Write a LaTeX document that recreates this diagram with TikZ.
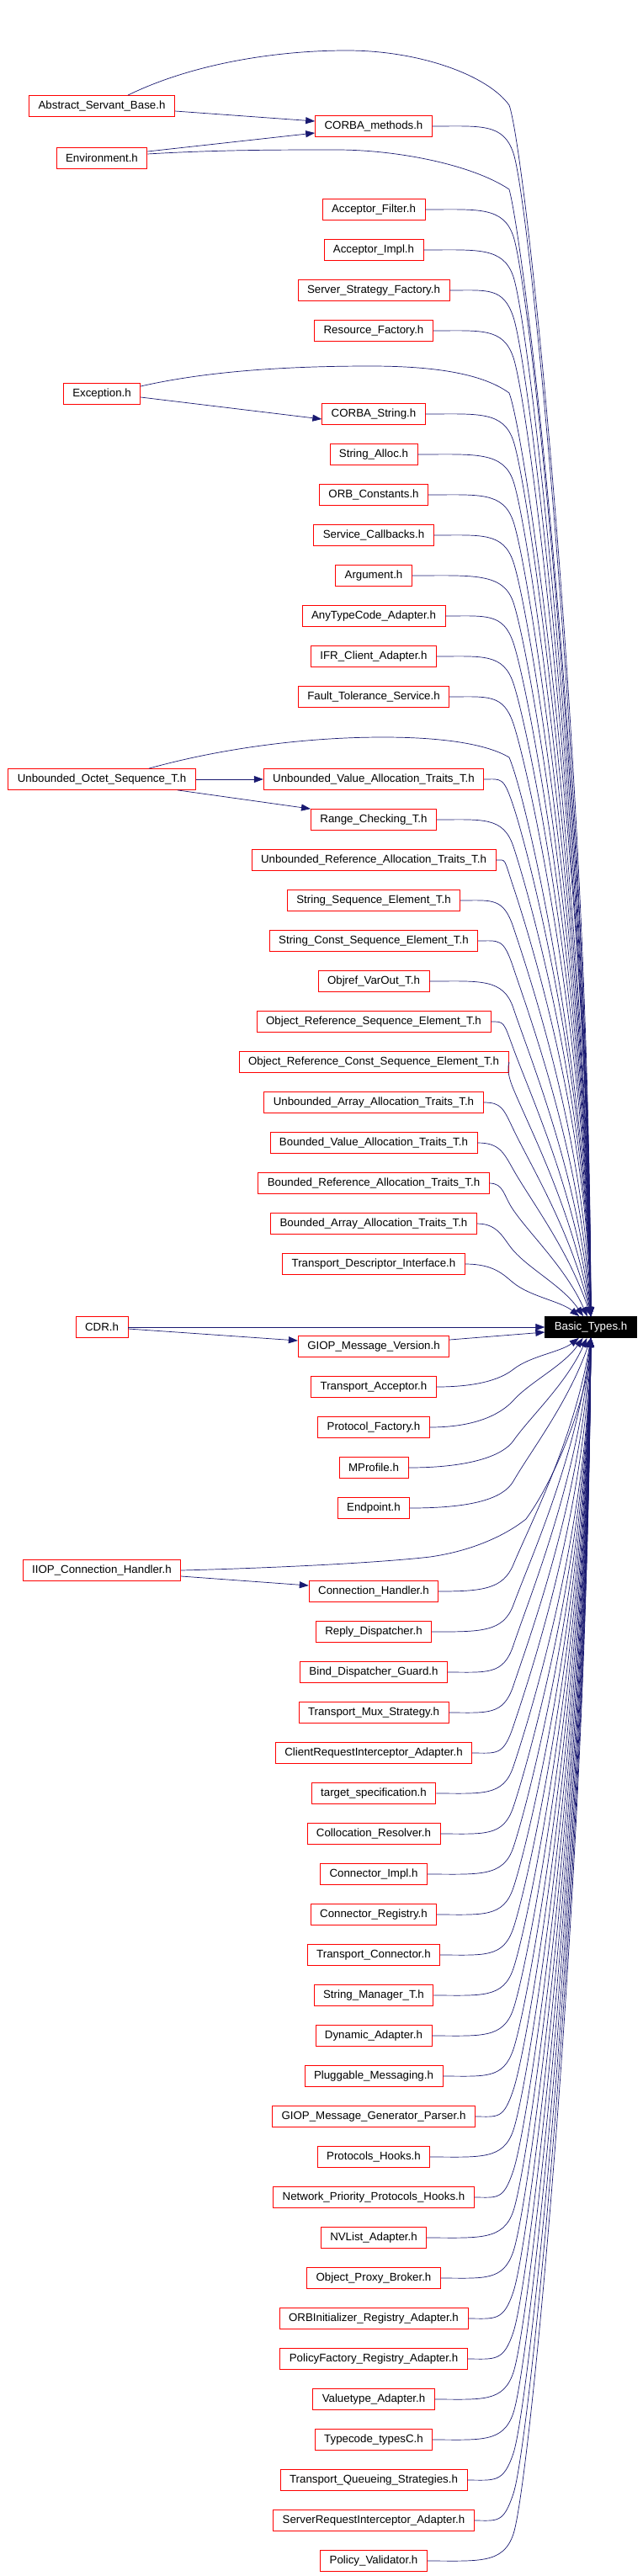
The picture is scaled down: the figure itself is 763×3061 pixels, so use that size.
\documentclass[tikz,border=0pt]{standalone}
\usepackage{fontspec}
\setmainfont{Liberation Sans}
\usepackage{tikz}
\usetikzlibrary{arrows.meta,calc}
\definecolor{edgeblue}{HTML}{191970}

\tikzset{
  file/.style={draw=red, line width=0.8pt, font=\fontsize{13.3}{16}\selectfont,
    inner xsep=11pt, inner ysep=0pt, minimum height=25pt},
  this/.style={file, draw=black, fill=black, text=white},
  dep/.style={draw=edgeblue, line width=0.7pt, -{Triangle[length=11pt,width=8pt]}},
  % bend at x=610, then run into the header
  fall/.style={to path={let \p1=(\tikztostart), \p2=(\tikztotarget),
    \n1={sign(\y1-\y2)}, \n2={abs(\y1-\y2)}, \n3={min(32,0.36*\n2)},
    \n4={min(3,0.4+\n2/150)}, \n5={max(4,40-\n2/15)}, \n6={max(0,20-\n2/10)} in
    .. controls ({\x1+0.6*(610-\x1)},\y1) and (598,{\y1-\n1*(\n3-12*\n4)}) .. (610,{\y1-\n1*\n3})
    .. controls (630,{\y1-\n1*(\n3+20*\n4)}) and ({\x2-\n5},{\y2+\n1*0.45*(\n2-\n3)}) .. ({\x2-\n6},\y2)}}
}

\begin{document}
\begin{tikzpicture}[x=1pt,y=1pt]
\useasboundingbox (0,0) rectangle (763,-3061);

\node[this] (bt) at (702,-1577) {Basic\_Types.h};

% files that include it through others
\node[file] (asb) at (121,-126) {Abstract\_Servant\_Base.h};
\node[file] (env) at (121,-188) {Environment.h};
\node[file] (exc) at (121,-468) {Exception.h};
\node[file] (uos) at (121,-926) {Unbounded\_Octet\_Sequence\_T.h};
\node[file] (cdr) at (121,-1577) {CDR.h};
\node[file] (iiop) at (121,-1866) {IIOP\_Connection\_Handler.h};

% direct includers
\node[file] (cm) at (444,-150) {CORBA\_methods.h};
\node[file] (af) at (444,-249) {Acceptor\_Filter.h};
\node[file] (ai) at (444,-297) {Acceptor\_Impl.h};
\node[file] (ssf) at (444,-345) {Server\_Strategy\_Factory.h};
\node[file] (rf) at (444,-393) {Resource\_Factory.h};
\node[file] (cs) at (444,-492) {CORBA\_String.h};
\node[file] (sa) at (444,-540) {String\_Alloc.h};
\node[file] (oc) at (444,-588) {ORB\_Constants.h};
\node[file] (sc) at (444,-636) {Service\_Callbacks.h};
\node[file] (arg) at (444,-684) {Argument.h};
\node[file] (atc) at (444,-732) {AnyTypeCode\_Adapter.h};
\node[file] (ifr) at (444,-780) {IFR\_Client\_Adapter.h};
\node[file] (fts) at (444,-828) {Fault\_Tolerance\_Service.h};
\node[file] (uvat) at (444,-926) {Unbounded\_Value\_Allocation\_Traits\_T.h};
\node[file] (rc) at (444,-974) {Range\_Checking\_T.h};
\node[file] (urat) at (444,-1022) {Unbounded\_Reference\_Allocation\_Traits\_T.h};
\node[file] (sse) at (444,-1070) {String\_Sequence\_Element\_T.h};
\node[file] (scse) at (444,-1118) {String\_Const\_Sequence\_Element\_T.h};
\node[file] (ovo) at (444,-1166) {Objref\_VarOut\_T.h};
\node[file] (orse) at (444,-1214) {Object\_Reference\_Sequence\_Element\_T.h};
\node[file] (orcse) at (444,-1262) {Object\_Reference\_Const\_Sequence\_Element\_T.h};
\node[file] (uaat) at (444,-1310) {Unbounded\_Array\_Allocation\_Traits\_T.h};
\node[file] (bvat) at (444,-1358) {Bounded\_Value\_Allocation\_Traits\_T.h};
\node[file] (brat) at (444,-1406) {Bounded\_Reference\_Allocation\_Traits\_T.h};
\node[file] (baat) at (444,-1454) {Bounded\_Array\_Allocation\_Traits\_T.h};
\node[file] (tdi) at (444,-1502) {Transport\_Descriptor\_Interface.h};
\node[file] (gmv) at (444,-1600) {GIOP\_Message\_Version.h};
\node[file] (ta) at (444,-1648) {Transport\_Acceptor.h};
\node[file] (pf) at (444,-1696) {Protocol\_Factory.h};
\node[file] (mp) at (444,-1744) {MProfile.h};
\node[file] (ep) at (444,-1792) {Endpoint.h};
\node[file] (ch) at (444,-1891) {Connection\_Handler.h};
\node[file] (rd) at (444,-1939) {Reply\_Dispatcher.h};
\node[file] (bdg) at (444,-1987) {Bind\_Dispatcher\_Guard.h};
\node[file] (tms) at (444,-2035) {Transport\_Mux\_Strategy.h};
\node[file] (cria) at (444,-2083) {ClientRequestInterceptor\_Adapter.h};
\node[file] (ts) at (444,-2131) {target\_specification.h};
\node[file] (cr) at (444,-2179) {Collocation\_Resolver.h};
\node[file] (ci) at (444,-2227) {Connector\_Impl.h};
\node[file] (cre) at (444,-2275) {Connector\_Registry.h};
\node[file] (tc) at (444,-2323) {Transport\_Connector.h};
\node[file] (smt) at (444,-2371) {String\_Manager\_T.h};
\node[file] (da) at (444,-2419) {Dynamic\_Adapter.h};
\node[file] (pm) at (444,-2467) {Pluggable\_Messaging.h};
\node[file] (gmgp) at (444,-2515) {GIOP\_Message\_Generator\_Parser.h};
\node[file] (ph) at (444,-2563) {Protocols\_Hooks.h};
\node[file] (npph) at (444,-2611) {Network\_Priority\_Protocols\_Hooks.h};
\node[file] (nvl) at (444,-2659) {NVList\_Adapter.h};
\node[file] (opb) at (444,-2707) {Object\_Proxy\_Broker.h};
\node[file] (oira) at (444,-2755) {ORBInitializer\_Registry\_Adapter.h};
\node[file] (pfra) at (444,-2803) {PolicyFactory\_Registry\_Adapter.h};
\node[file] (vta) at (444,-2851) {Valuetype\_Adapter.h};
\node[file] (tct) at (444,-2899) {Typecode\_typesC.h};
\node[file] (tqs) at (444,-2947) {Transport\_Queueing\_Strategies.h};
\node[file] (sria) at (444,-2995) {ServerRequestInterceptor\_Adapter.h};
\node[file] (pv) at (444,-3043) {Policy\_Validator.h};

% left column edges
\draw[dep] ([yshift=-6pt]asb.east) -- ([yshift=6pt]cm.west);
\draw[dep] ([xshift=31pt]asb.north) .. controls (230,-75) and (330,-60) .. (412,-60)
  .. controls (500,-60) and (580,-90) .. (605,-125)
  .. controls (625,-180) and (700,-900) .. (bt.north);
\draw[dep] ([yshift=8pt]env.east) -- ([yshift=-8pt]cm.west);
\draw[dep] ([yshift=5pt]env.east) .. controls (260,-178) and (330,-178) .. (400,-178)
  .. controls (470,-178) and (560,-195) .. (605,-225)
  .. controls (625,-300) and (700,-950) .. (bt.north);
\draw[dep] ([yshift=9pt]exc.east) .. controls (250,-440) and (350,-435) .. (440,-435)
  .. controls (520,-435) and (575,-445) .. (605,-467)
  .. controls (625,-520) and (700,-1050) .. (bt.north);
\draw[dep] ([yshift=-4pt]exc.east) -- ([yshift=-6pt]cs.west);
\draw[dep] ([xshift=56pt]uos.north) .. controls (260,-890) and (360,-876) .. (455,-876)
  .. controls (530,-876) and (580,-885) .. (605,-900)
  .. controls (630,-960) and (700,-1300) .. (bt.north);
\draw[dep] (uos.east) -- (uvat.west);
\draw[dep] ([xshift=90pt]uos.south) -- (rc.north west);
\draw[dep] (cdr.east) -- (bt.west);
\draw[dep] ([yshift=-2pt]cdr.east) -- ([yshift=7pt]gmv.west);
\draw[dep] ([yshift=8pt]gmv.east) -- ([yshift=-6pt]bt.west);
\draw[dep] (iiop.east) .. controls (330,-1863) and (450,-1857) .. (511,-1850)
  .. controls (560,-1843) and (600,-1825) .. (625,-1805)
  .. controls (665,-1750) and (700,-1650) .. (bt.south);
\draw[dep] ([yshift=-7pt]iiop.east) -- ([yshift=7pt]ch.west);

% edges into the header from above
\draw[dep] (cm.east) to[fall] (bt.north);
\draw[dep] (af.east) to[fall] (bt.north);
\draw[dep] (ai.east) to[fall] (bt.north);
\draw[dep] (ssf.east) to[fall] (bt.north);
\draw[dep] (rf.east) to[fall] (bt.north);
\draw[dep] (cs.east) to[fall] (bt.north);
\draw[dep] (sa.east) to[fall] (bt.north);
\draw[dep] (oc.east) to[fall] (bt.north);
\draw[dep] (sc.east) to[fall] (bt.north);
\draw[dep] (arg.east) to[fall] (bt.north);
\draw[dep] (atc.east) to[fall] (bt.north);
\draw[dep] (ifr.east) to[fall] (bt.north);
\draw[dep] (fts.east) to[fall] (bt.north);
\draw[dep] (uvat.east) to[fall] (bt.north);
\draw[dep] (rc.east) to[fall] (bt.north);
\draw[dep] (urat.east) to[fall] (bt.north);
\draw[dep] (sse.east) to[fall] (bt.north);
\draw[dep] (scse.east) to[fall] (bt.north);
\draw[dep] (ovo.east) to[fall] (bt.north);
\draw[dep] (orse.east) to[fall] (bt.north);
\draw[dep] (orcse.east) to[fall] (bt.north);
\draw[dep] (uaat.east) to[fall] (bt.north);
\draw[dep] (bvat.east) to[fall] (bt.north);
\draw[dep] (brat.east) to[fall] (bt.north);
\draw[dep] (baat.east) to[fall] (bt.north);
\draw[dep] (tdi.east) to[fall] (bt.north);

% edges into the header from below
\draw[dep] (ta.east) to[fall] (bt.south);
\draw[dep] (pf.east) to[fall] (bt.south);
\draw[dep] (mp.east) to[fall] (bt.south);
\draw[dep] (ep.east) to[fall] (bt.south);
\draw[dep] (ch.east) to[fall] (bt.south);
\draw[dep] (rd.east) to[fall] (bt.south);
\draw[dep] (bdg.east) to[fall] (bt.south);
\draw[dep] (tms.east) to[fall] (bt.south);
\draw[dep] (cria.east) to[fall] (bt.south);
\draw[dep] (ts.east) to[fall] (bt.south);
\draw[dep] (cr.east) to[fall] (bt.south);
\draw[dep] (ci.east) to[fall] (bt.south);
\draw[dep] (cre.east) to[fall] (bt.south);
\draw[dep] (tc.east) to[fall] (bt.south);
\draw[dep] (smt.east) to[fall] (bt.south);
\draw[dep] (da.east) to[fall] (bt.south);
\draw[dep] (pm.east) to[fall] (bt.south);
\draw[dep] (gmgp.east) to[fall] (bt.south);
\draw[dep] (ph.east) to[fall] (bt.south);
\draw[dep] (npph.east) to[fall] (bt.south);
\draw[dep] (nvl.east) to[fall] (bt.south);
\draw[dep] (opb.east) to[fall] (bt.south);
\draw[dep] (oira.east) to[fall] (bt.south);
\draw[dep] (pfra.east) to[fall] (bt.south);
\draw[dep] (vta.east) to[fall] (bt.south);
\draw[dep] (tct.east) to[fall] (bt.south);
\draw[dep] (tqs.east) to[fall] (bt.south);
\draw[dep] (sria.east) to[fall] (bt.south);
\draw[dep] (pv.east) to[fall] (bt.south);
\end{tikzpicture}
\end{document}
